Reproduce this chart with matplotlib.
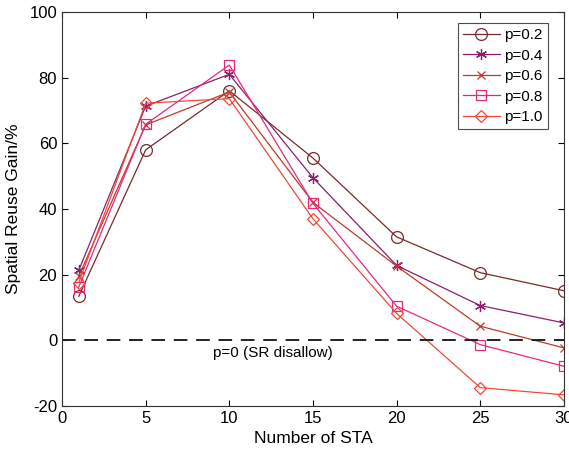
import matplotlib
matplotlib.use('Agg')
import matplotlib.pyplot as plt

plt.rcParams['font.family'] = ['Liberation Sans', 'DejaVu Sans']
plt.rcParams['axes.unicode_minus'] = False

# data
sta = [1, 5, 10, 15, 20, 25, 30]
gain_02 = [13.4, 58, 76, 55.5, 31.5, 20.6, 15.1]
gain_04 = [21.3, 71.3, 81, 49.5, 22.8, 10.6, 5.3]
gain_06 = [19.5, 65.6, 75.6, 42, 22.6, 4.3, -2.3]
gain_08 = [16.2, 65.8, 83.8, 41.7, 10.4, -1.3, -7.9]
gain_10 = [17.6, 72.2, 73.6, 37, 8.2, -14.4, -16.6]
labels = ['p=0.2', 'p=0.4', 'p=0.6', 'p=0.8', 'p=1.0']

series = [gain_02, gain_04, gain_06, gain_08, gain_10]
colors = ['#7a2a2a', '#8c1f6c', '#bd3b2b', '#e6287c', '#f0483a']
markers = ['o', (6, 2, 0), 'x', 's', 'D']
msizes = [8.5, 8, 6, 6.5, 6]

fig = plt.figure(figsize=(5.69, 4.58), dpi=100)
ax = fig.add_axes([0.109, 0.1135, 0.882, 0.8605])

for y, c, m, ms, lab in zip(series, colors, markers, msizes, labels):
    ax.plot(sta, y, color=c, lw=0.9, marker=m, ms=ms, mew=0.9,
            mfc='none', label=lab)

# SR disallowed baseline
ax.axhline(0, color='#222222', lw=1.4, ls=(0, (7, 4.5)))
ax.text(9.0, -4, 'p=0 (SR disallow)', fontsize=11, va='center', ha='left')

ax.set_xlim(0, 30)
ax.set_ylim(-20, 100)
ax.set_xticks(range(0, 31, 5))
ax.set_yticks(range(-20, 101, 20))
ax.tick_params(direction='in', labelsize=12, length=4, width=0.8,
               top=True, right=True)
for s in ax.spines.values():
    s.set_linewidth(0.8)
    s.set_color('#333333')

ax.set_xlabel('Number of STA', fontsize=12.5)
ax.set_ylabel('Spatial Reuse Gain/%', fontsize=12.5, labelpad=6)

leg = ax.legend(loc='upper right', bbox_to_anchor=(0.968, 0.972), fontsize=11,
                frameon=True, fancybox=False, edgecolor='#222222',
                borderpad=0.35, labelspacing=0.42, handlelength=2.4,
                handletextpad=0.3, borderaxespad=0.0)
leg.get_frame().set_linewidth(0.8)

fig.savefig('out.png', dpi=100)
